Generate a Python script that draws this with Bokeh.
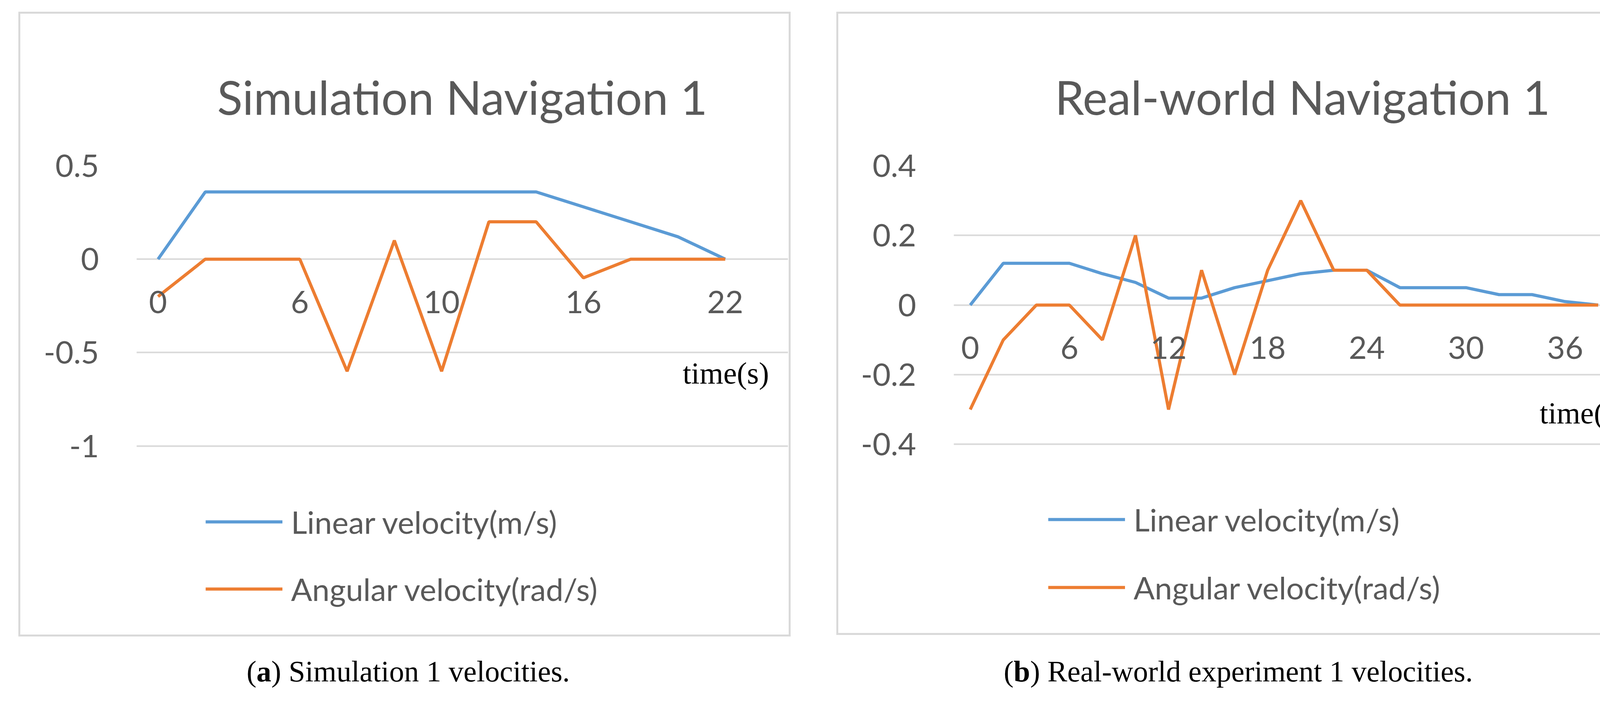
from bokeh.plotting import figure
from bokeh.models import FixedTicker, Label, Legend, LegendItem, Div, Spacer
from bokeh.layouts import row, column
from bokeh.embed import file_html
from bokeh.resources import INLINE

# ---- data ----
sim_labels = ["0", "", "", "6", "", "", "10", "", "", "16", "", "", "22"]
sim_linear = [0, 0.36, 0.36, 0.36, 0.36, 0.36, 0.36, 0.36, 0.36, 0.28, 0.20, 0.12, 0]
sim_angular = [-0.2, 0, 0, 0, -0.6, 0.1, -0.6, 0.2, 0.2, -0.1, 0, 0, 0]

real_labels = ["0", "", "", "6", "", "", "12", "", "", "18", "", "", "24", "", "", "30", "", "", "36", ""]
real_linear = [0, 0.12, 0.12, 0.12, 0.09, 0.065, 0.02, 0.02, 0.05, 0.07, 0.09, 0.10, 0.10,
               0.05, 0.05, 0.05, 0.03, 0.03, 0.01, 0]
real_angular = [-0.3, -0.1, 0, 0, -0.1, 0.2, -0.3, 0.1, -0.2, 0.1, 0.3, 0.1, 0.1,
                0, 0, 0, 0, 0, 0, 0]

sim_yticks = [-1, -0.5, 0, 0.5]
real_yticks = [-0.4, -0.2, 0, 0.2, 0.4]

BLUE = "#5B9BD5"
ORANGE = "#ED7D31"
GREY = "#595959"
FONT = "Lato"


def panel(title, labels, lin, ang, yticks, yr, xr, bounds, w, h, borders, tlabel, leg, spacing):
    p = figure(width=w, height=h, x_range=xr, y_range=yr, output_backend="svg",
               toolbar_location=None, min_border_left=borders[0], min_border_right=borders[1],
               min_border_top=borders[2], min_border_bottom=borders[3],
               styles={"border": "5px solid #d9d9d9"})
    p.outline_line_color = None
    p.title.text = title
    p.title.align = "center"
    p.title.text_font = FONT
    p.title.text_font_style = "normal"
    p.title.text_font_size = "120px"
    p.title.text_color = GREY
    p.title.standoff = 210
    xs = list(range(len(labels)))
    p.xaxis.ticker = FixedTicker(ticks=[i for i, l in enumerate(labels) if l])
    p.xaxis.major_label_overrides = {i: l for i, l in enumerate(labels) if l}
    p.xaxis.fixed_location = 0
    p.yaxis.ticker = FixedTicker(ticks=yticks)
    p.yaxis.major_label_overrides = {t: (str(int(t)) if t == int(t) else str(t)) for t in yticks}
    for ax in (p.xaxis, p.yaxis):
        ax.axis_line_color = None
        ax.major_tick_line_color = None
        ax.minor_tick_line_color = None
        ax.major_label_text_font = FONT
        ax.major_label_text_font_size = "80px"
        ax.major_label_text_color = GREY
    p.xaxis.major_label_standoff = 75
    p.yaxis.major_label_standoff = 90
    p.xgrid.grid_line_color = None
    p.ygrid.ticker = FixedTicker(ticks=yticks)
    p.ygrid.grid_line_color = "#d9d9d9"
    p.ygrid.grid_line_width = 4
    p.ygrid.bounds = bounds
    r1 = p.line(xs, lin, line_color=BLUE, line_width=8)
    r2 = p.line(xs, ang, line_color=ORANGE, line_width=8)
    p.add_layout(Label(x=tlabel[0], y=tlabel[1], text="time(s)", text_font="Liberation Serif",
                       text_font_size="78px", text_color="black", text_baseline="middle"))
    legend = Legend(items=[LegendItem(label="Linear velocity(m/s)", renderers=[r1]),
                           LegendItem(label="Angular velocity(rad/s)", renderers=[r2])],
                    location=leg, orientation="vertical", padding=0, margin=0,
                    border_line_color=None, background_fill_alpha=0,
                    label_text_font=FONT, label_text_font_size="80px", label_text_color=GREY,
                    glyph_width=197, glyph_height=100, label_height=100, label_standoff=22,
                    spacing=spacing)
    p.add_layout(legend, "center")
    return p


p1 = panel("Simulation Navigation 1", sim_labels, sim_linear, sim_angular, sim_yticks,
           (-2.006, 0.5), (-0.455, 13.33), (-0.455, 12.48), 1977, 1600, (297, 12, 379, 12),
           (11.1, -0.61), (177, 65), 72)
p2 = panel("Real-world Navigation 1", real_labels, real_linear, real_angular, real_yticks,
           (-0.94, 0.4), (-0.5, 20.61), (-0.5, 19.48), 2097, 1596, (295, 16, 389, 12),
           (17.23, -0.31), (242, 65), 74)

cap_style = {"font-family": "Liberation Serif", "font-size": "76px", "color": "black",
             "text-align": "center"}
d1 = Div(text="(<b>a</b>) Simulation 1 velocities.", width=2080, height=100, styles=cap_style)
d2 = Div(text="(<b>b</b>) Real-world experiment 1 velocities.", width=2150, height=100, styles=cap_style)

layout = column(Spacer(height=30),
                row(Spacer(width=47), p1, Spacer(width=117), p2),
                Spacer(height=30),
                row(d1, d2))

open("out.html", "w").write(file_html(layout, INLINE))
